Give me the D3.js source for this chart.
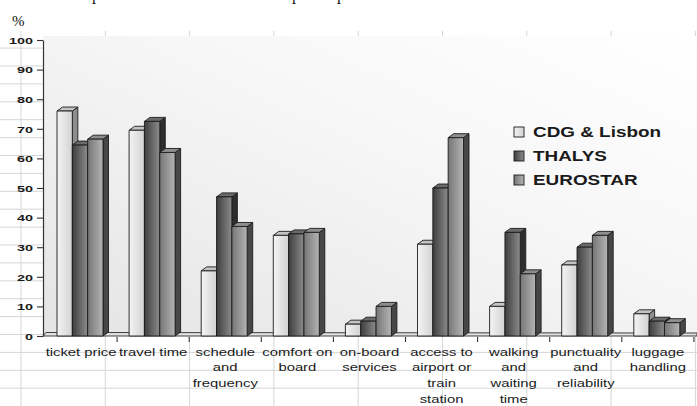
<!DOCTYPE html>
<html>
<head>
<meta charset="utf-8">
<script src="https://cdn.jsdelivr.net/npm/d3@7/dist/d3.min.js"></script>
<style>
  html, body { margin: 0; padding: 0; background: #fff; }
  svg { display: block; }
</style>
</head>
<body>
<svg id="chart" width="697" height="406"></svg>
<script>
// Categories, each split into the lines shown under the axis
const categories = ["ticket price", "travel time", "schedule and frequency", "comfort on board",
  "on-board services", "access to airport or train station", "walking and waiting time",
  "punctuality and reliability", "luggage handling"];
const categoryLines = [
  ["ticket price"], ["travel time"], ["schedule", "and", "frequency"], ["comfort on", "board"],
  ["on-board", "services"], ["access to", "airport or", "train", "station"],
  ["walking", "and", "waiting", "time"], ["punctuality", "and", "reliability"], ["luggage", "handling"]
];
const seriesNames = ["CDG & Lisbon", "THALYS", "EUROSTAR"];
const cdgLisbon = [76, 69.5, 22, 34, 4, 31, 10, 24, 7.5];
const thalys    = [64.5, 72.5, 47, 34.5, 5, 50, 35, 30, 5];
const eurostar  = [66.5, 62, 37, 35, 10, 67, 21, 34, 4.5];
const yTicks = [0, 10, 20, 30, 40, 50, 60, 70, 80, 90, 100];

const seriesValues = [cdgLisbon, thalys, eurostar];

const W = 697, H = 406;
const svg = d3.select("#chart");
const defs = svg.append("defs");

// Shading for each series: front face gradient, side and top faces
const shades = [
  { front: ["#f4f4f4", "#d2d2d2"], side: "#8e8e8e", top: "#c4c4c4" },
  { front: ["#3e3e3e", "#8c8c8c"], side: "#2e2e2e", top: "#6a6a6a" },
  { front: ["#767676", "#b4b4b4"], side: "#474747", top: "#8e8e8e" }
];
shades.forEach((s, i) => {
  const g = defs.append("linearGradient").attr("id", "front" + i)
    .attr("x1", 0).attr("y1", 0).attr("x2", 1).attr("y2", 0);
  g.append("stop").attr("offset", "0%").attr("stop-color", s.front[0]);
  g.append("stop").attr("offset", "100%").attr("stop-color", s.front[1]);
});
const bg = defs.append("linearGradient").attr("id", "wall")
  .attr("x1", 0).attr("y1", 1).attr("x2", 1).attr("y2", 0);
bg.append("stop").attr("offset", "0%").attr("stop-color", "#e4e4e4");
bg.append("stop").attr("offset", "60%").attr("stop-color", "#f7f7f7");
bg.append("stop").attr("offset", "100%").attr("stop-color", "#ffffff");

// Sheet cell grid behind the chart
const grid = svg.append("g").attr("stroke", "#d6d6d6").attr("stroke-width", 1);
const rowYs = d3.range(-16, 5).map(k => 334.5 + 17.9 * k).filter(y => y > 40 && y < H);
const colXs = d3.range(0, 9).map(k => 21 + 84.3 * k);
rowYs.forEach(y => grid.append("line").attr("x1", 0).attr("x2", W).attr("y1", y).attr("y2", y));
colXs.forEach(x => grid.append("line").attr("x1", x).attr("x2", x).attr("y1", 31).attr("y2", H));

// Scales
const y = d3.scaleLinear().domain([0, 100]).range([336, 40]);
const x = d3.scaleBand().domain(categories).range([45, 45 + 72.1 * 9]).padding(0);
const xs = d3.scaleBand().domain(seriesNames).range([12, 12 + 46]).padding(0);
const depthX = 5.5, depthY = 4;

// Plot wall
svg.append("rect").attr("x", 43).attr("y", 36).attr("width", W - 43).attr("height", 300)
  .attr("fill", "url(#wall)");

// Floor slab
const floorG = svg.append("g");
floorG.append("path")
  .attr("d", `M43,${y(0)} L${W},${y(0)} L${W},${y(0) - 3} L${43 + 3},${y(0) - 3.5} Z`)
  .attr("fill", "#e2e2e2").attr("stroke", "#2a2a2a").attr("stroke-width", 0.9);

// Bars
const bars = svg.append("g").attr("stroke", "#1c1c1c").attr("stroke-width", 0.9)
  .attr("stroke-linejoin", "round");
categories.forEach((c, ci) => {
  seriesNames.forEach((s, si) => {
    const v = seriesValues[si][ci];
    const x0 = x(c) + xs(s), x1 = x0 + xs.bandwidth();
    const yt = y(v), yb = y(0);
    const g = bars.append("g");
    // side face
    g.append("path")
      .attr("d", `M${x1},${yb} L${x1},${yt} L${x1 + depthX},${yt - depthY} L${x1 + depthX},${yb - depthY} Z`)
      .attr("fill", shades[si].side);
    // top face
    g.append("path")
      .attr("d", `M${x0},${yt} L${x1},${yt} L${x1 + depthX},${yt - depthY} L${x0 + depthX},${yt - depthY} Z`)
      .attr("fill", shades[si].top);
    // front face
    g.append("rect").attr("x", x0).attr("y", yt).attr("width", x1 - x0).attr("height", yb - yt)
      .attr("fill", `url(#front${si})`);
  });
});

// Value axis
const yAxis = svg.append("g").attr("transform", "translate(43,0)")
  .call(d3.axisLeft(y).tickValues(yTicks).tickSize(6).tickSizeOuter(0));
yAxis.select(".domain").attr("stroke", "#333").attr("stroke-width", 1.2);
yAxis.selectAll(".tick line").attr("stroke", "#333").attr("stroke-width", 1.1);
yAxis.selectAll(".tick text")
  .attr("x", 0).attr("dy", null)
  .attr("transform", "translate(-10,3.3) scale(1.6,1)")
  .attr("font-family", "Liberation Sans, Arial, sans-serif")
  .attr("font-weight", "bold").attr("font-size", 9).attr("fill", "#1a1a1a");

// Category axis ticks at the boundaries
const catAxis = svg.append("g").attr("stroke", "#333").attr("stroke-width", 1.1);
categories.forEach(c => {
  const bx = x(c) + x.bandwidth();
  catAxis.append("line").attr("x1", bx).attr("x2", bx).attr("y1", 337).attr("y2", 342);
});

// Category labels
const labels = svg.append("g")
  .attr("font-family", "Liberation Sans, Arial, sans-serif").attr("font-size", 11)
  .attr("fill", "#1a1a1a").attr("text-anchor", "middle");
categories.forEach((c, ci) => {
  const cx = x(c) + x.bandwidth() / 2;
  categoryLines[ci].forEach((ln, li) => {
    labels.append("text")
      .attr("transform", `translate(${cx},${355.5 + li * 15.8}) scale(1.35,1)`)
      .text(ln);
  });
});

// Legend
const legend = svg.append("g");
seriesNames.forEach((s, si) => {
  const cy = 132 + si * 24;
  legend.append("rect").attr("x", 514).attr("y", cy - 5).attr("width", 10).attr("height", 10)
    .attr("fill", `url(#front${si})`).attr("stroke", "#1c1c1c").attr("stroke-width", 0.9);
  legend.append("text")
    .attr("transform", `translate(533,${cy + 5}) scale(1.35,1)`)
    .attr("font-family", "Liberation Sans, Arial, sans-serif").attr("font-weight", "bold")
    .attr("font-size", 14).attr("fill", "#1a1a1a").text(s);
});

// Unit label and the clipped caption line above
svg.append("text").attr("x", 12).attr("y", 26)
  .attr("font-family", "Liberation Serif, Times New Roman, serif").attr("font-size", 15)
  .attr("fill", "#111").text("%");
const caption = svg.append("g").attr("font-family", "Liberation Serif, Times New Roman, serif")
  .attr("font-size", 16).attr("fill", "#111");
[[92, "p"], [292, "p"], [337, "p"]].forEach(([px, t]) =>
  caption.append("text").attr("x", px).attr("y", -0.5).text(t));
</script>
</body>
</html>
